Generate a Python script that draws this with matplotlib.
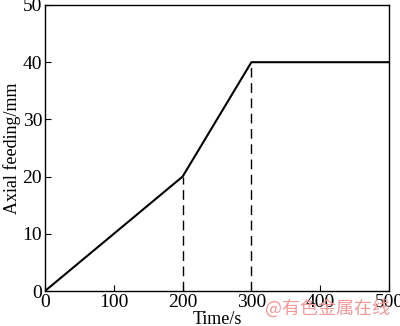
import matplotlib
matplotlib.use("Agg")
import matplotlib.pyplot as plt

time_s = [0, 200, 300, 500]
feed_mm = [0, 20, 40, 40]
dash_x = [200, 300]
dash_top = [20, 40]
xticks = [0, 100, 200, 300, 400, 500]
yticks = [0, 10, 20, 30, 40, 50]

plt.rcParams['font.family'] = ['Liberation Serif', 'DejaVu Serif']
fig = plt.figure(figsize=(4.0, 3.26), dpi=100)
ax = fig.add_axes([45/400, 1-291/326, 344/400, 286/326])
ax.plot(time_s, feed_mm, color='black', lw=1.5)
for x, t in zip(dash_x, dash_top):
    ax.plot([x, x], [0, t], color='black', lw=1.0, ls=(0, (7, 4)))
ax.set_xlim(0, 500)
ax.set_ylim(0, 50)
ax.set_xticks(xticks)
ax.set_yticks(yticks)
ax.tick_params(direction='in', length=4, width=0.8, labelsize=14, pad=2)
for s in ax.spines.values():
    s.set_linewidth(1.0)
ax.set_xlabel('Time/s', fontsize=13, labelpad=0)
ax.set_ylabel('Axial feeding/mm', fontsize=13, labelpad=1)
fig.text(0.975, 0.025, '@有色金属在线', ha='right', va='bottom', fontsize=13,
         color='#f29a9a', family=['Noto Sans CJK SC', 'DejaVu Sans'])
fig.savefig('out.png', dpi=100)
